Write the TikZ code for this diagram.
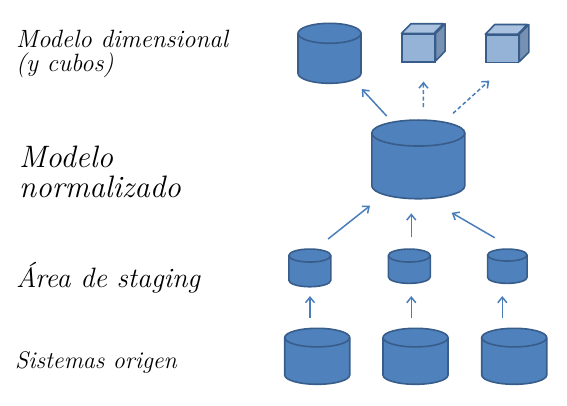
\documentclass[tikz,border=0pt]{standalone}
\usepackage{tikz}
\usetikzlibrary{arrows.meta}
\definecolor{azulbase}{HTML}{4F81BD}
\definecolor{azulborde}{HTML}{385D8A}
\definecolor{azulflecha}{HTML}{4A7EBB}
\definecolor{cubofrente}{HTML}{95B3D7}
\definecolor{cubotapa}{HTML}{AAC2DF}
\definecolor{cubolado}{HTML}{7791B3}
\tikzset{
	hueco/.style={rectangle, inner sep=0pt, outer sep=0pt},
	cuerpo/.style={draw=azulborde, fill=azulbase, line width=1.6pt, line join=round},
	caja/.style={rectangle, draw=azulborde, fill=cubofrente, line width=1.6pt, inner sep=0pt, minimum width=32.5pt, minimum height=27.5pt},
	flecha/.style={draw=azulflecha, line width=1.5pt, -{Straight Barb[length=5.5pt,width=9pt]}},
	flechapunteada/.style={flecha, dash pattern=on 4pt off 2.5pt},
	rotulo/.style={anchor=west, inner sep=0pt, align=left, font=\itshape\fontsize{25}{24}\selectfont}
}
% nombre, centro x, centro y, ancho, alto, semieje menor de la tapa
\newcommand{\basedatos}[6]{
	\node[hueco, minimum width=#4pt, minimum height=#5pt] (#1) at (#2,#3) {};
	\filldraw[cuerpo] ([yshift=-#6pt]#1.north west) arc[start angle=180, end angle=0, x radius=#4pt/2, y radius=#6pt]
		-- ([yshift=#6pt]#1.south east) arc[start angle=0, end angle=-180, x radius=#4pt/2, y radius=#6pt] -- cycle;
	\draw[cuerpo, fill=none] ([yshift=-#6pt]#1.north west) arc[start angle=180, end angle=360, x radius=#4pt/2, y radius=#6pt];
}
\newcommand{\cubo}[3]{
	\node[caja] (#1) at (#2,#3) {};
	\filldraw[draw=azulborde, fill=cubotapa, line width=1.6pt, line join=round] (#1.north west) -- ++(9.5,-9.7) -- ++(32.5,0) -- ++(-9.5,9.7) -- cycle;
	\filldraw[draw=azulborde, fill=cubolado, line width=1.6pt, line join=round] (#1.north east) -- ++(9.5,-9.7) -- ++(0,27.5) -- ++(-9.5,9.7) -- cycle;
}
\begin{document}
\begin{tikzpicture}[x=1pt,y=-1pt]
	\useasboundingbox (0,0) rectangle (567,406);
	% capas
	\basedatos{dim}{329.5}{53.3}{63}{60}{10}
	\cubo{cuboa}{418.5}{48}
	\cubo{cubob}{502.3}{48.8}
	\basedatos{norm}{418.3}{159.4}{93}{78.7}{13}
	\basedatos{stga}{309.8}{267.9}{42}{37.7}{6.5}
	\basedatos{stgb}{409.3}{266.2}{42}{34.3}{6.5}
	\basedatos{stgc}{507.3}{266.2}{39.5}{34.3}{6}
	\basedatos{srca}{317.2}{356.3}{65}{56}{9.3}
	\basedatos{srcb}{415.5}{356.3}{65}{56}{9.3}
	\basedatos{srcc}{514.2}{356.3}{65}{56}{9.3}
	% flechas
	\draw[flecha] ([shift={(-31.6,-4)}]norm.north) -- ([shift={(32.2,5.7)}]dim.south);
	\draw[flechapunteada] ([shift={(5,-13)}]norm.north) -- ([shift={(5,19)}]cuboa.south);
	\draw[flechapunteada] ([shift={(34.7,-6.7)}]norm.north) -- ([shift={(-13,17.3)}]cubob.south);
	\draw[flecha] ([shift={(18.2,-10)}]stga.north) -- ([shift={(-48.3,7)}]norm.south);
	\draw[flecha] ([shift={(2,-11.7)}]stgb.north) -- ([shift={(-7,14.6)}]norm.south);
	\draw[flecha] ([shift={(-12.6,-11.3)}]stgc.north) -- ([shift={(33.4,14)}]norm.south);
	\draw[flecha] ([shift={(-7.2,-10.6)}]srca.north) -- ([shift={(0.2,9.3)}]stga.south);
	\draw[flecha] ([shift={(-4.2,-10.6)}]srcb.north) -- ([shift={(2,12.7)}]stgb.south);
	\draw[flecha] ([shift={(-11.9,-10.6)}]srcc.north) -- ([shift={(-5,12.7)}]stgc.south);
	% rotulos
	\node[rotulo] (rdim) at (16,54) {Modelo dimensional\\(y cubos)};
	\node[rotulo, font=\itshape\fontsize{31}{30}\selectfont] (rnorm) at (19,172) {Modelo\\normalizado};
	\node[rotulo, font=\itshape\fontsize{28}{27}\selectfont] (rstg) at (16,278) {Área de staging};
	\node[rotulo, font=\itshape\fontsize{24}{24}\selectfont] (rsrc) at (15,362) {Sistemas origen};
\end{tikzpicture}
\end{document}
